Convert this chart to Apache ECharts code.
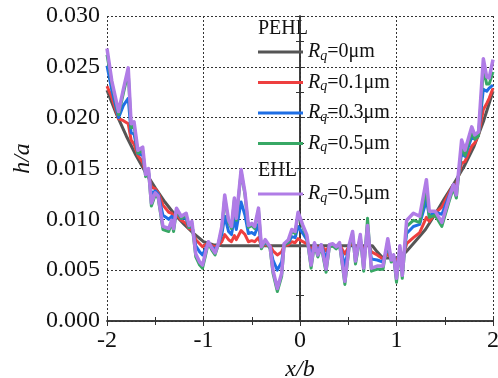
<!DOCTYPE html>
<html>
<head>
<meta charset="utf-8">
<script src="https://cdn.jsdelivr.net/npm/echarts@6/dist/echarts.min.js"></script>
<style>
  html, body { margin: 0; padding: 0; background: #fff; }
  #chart { width: 498px; height: 378px; }
</style>
</head>
<body>
<div id="chart"></div>
<script>
// Film thickness h/a along x/b for smooth and rough contacts.

// Smooth (Rq = 0) PEHL profile
const smoothX = [-2, -1.9, -1.8, -1.7, -1.6, -1.5, -1.4, -1.3, -1.2, -1.1, -1.0, -0.9, -0.8,
  0.75, 0.8, 0.85, 0.9, 0.95, 1.0, 1.05, 1.1, 1.2, 1.3, 1.4, 1.5, 1.6, 1.7, 1.8, 1.9, 2.0];
const pehlRq0 = [0.0227, 0.0203, 0.0182, 0.0163, 0.0146, 0.0131, 0.0117, 0.0105, 0.0095, 0.0086, 0.0078, 0.0075, 0.0074,
  0.0074, 0.0068, 0.0063, 0.0062, 0.0062, 0.0062, 0.0064, 0.0068, 0.0079, 0.0090, 0.0105, 0.0121, 0.0136, 0.0152, 0.0171, 0.0196, 0.0226];

// Rough-surface profiles share these x positions
const roughX = [
  -2.00, -1.95, -1.88, -1.83, -1.78, -1.75, -1.72, -1.68, -1.63, -1.60,
  -1.57, -1.54, -1.50, -1.47, -1.42, -1.36, -1.33, -1.31, -1.28, -1.23,
  -1.18, -1.15, -1.12, -1.08, -1.04, -1.01, -0.98, -0.95, -0.915, -0.88,
  -0.85, -0.81, -0.78, -0.74, -0.71, -0.68, -0.66, -0.61, -0.57, -0.535,
  -0.50, -0.47, -0.43, -0.40, -0.36, -0.31, -0.28, -0.235, -0.19, -0.165,
  -0.12, -0.085, -0.05, -0.02, 0.03, 0.07, 0.115, 0.15, 0.185, 0.22,
  0.27, 0.305, 0.34, 0.375, 0.41, 0.465, 0.51, 0.545, 0.575, 0.625,
  0.66, 0.70, 0.74, 0.80, 0.86, 0.91, 0.945, 0.97, 1.00, 1.035,
  1.06, 1.105, 1.175, 1.24, 1.31, 1.34, 1.40, 1.47, 1.54, 1.59,
  1.62, 1.675, 1.71, 1.78, 1.81, 1.85, 1.90, 1.935, 1.96, 2.00
];

const pehlRq01 = [
  0.0231, 0.0220, 0.0199, 0.0197, 0.0194, 0.0178, 0.0174, 0.0163, 0.0156, 0.0146,
  0.0143, 0.0132, 0.0130, 0.0126, 0.0114, 0.0107, 0.0106, 0.0103, 0.0105, 0.0099,
  0.0096, 0.0091, 0.0090, 0.0080, 0.0076, 0.0073, 0.0075, 0.0076, 0.0074, 0.0073,
  0.0074, 0.0078, 0.0085, 0.0080, 0.0078, 0.0084, 0.0080, 0.0089, 0.0085, 0.0078,
  0.0079, 0.0078, 0.0082, 0.0074, 0.0075, 0.0074, 0.0069, 0.0065, 0.0068, 0.0074,
  0.0075, 0.0078, 0.0077, 0.0081, 0.0078, 0.0076, 0.0070, 0.0075, 0.0072, 0.0074,
  0.0069, 0.0074, 0.0074, 0.0074, 0.0075, 0.0066, 0.0074, 0.0077, 0.0071, 0.0076,
  0.0069, 0.0078, 0.0068, 0.0065, 0.0061, 0.0066, 0.0062, 0.0063, 0.0058, 0.0065,
  0.0061, 0.0076, 0.0082, 0.0087, 0.0102, 0.0098, 0.0106, 0.0112, 0.0125, 0.0134,
  0.0134, 0.0155, 0.0157, 0.0172, 0.0175, 0.0183, 0.0208, 0.0214, 0.0219, 0.0229
];

const pehlRq03 = [
  0.0251, 0.0227, 0.0200, 0.0212, 0.0219, 0.0185, 0.0184, 0.0165, 0.0163, 0.0145,
  0.0146, 0.0125, 0.0128, 0.0125, 0.0104, 0.0100, 0.0103, 0.0097, 0.0108, 0.0101,
  0.0101, 0.0092, 0.0094, 0.0074, 0.0068, 0.0065, 0.0071, 0.0077, 0.0073, 0.0070,
  0.0075, 0.0085, 0.0103, 0.0088, 0.0085, 0.0101, 0.0090, 0.0117, 0.0104, 0.0086,
  0.0087, 0.0085, 0.0095, 0.0073, 0.0077, 0.0073, 0.0060, 0.0050, 0.0058, 0.0075,
  0.0077, 0.0083, 0.0082, 0.0093, 0.0086, 0.0080, 0.0063, 0.0076, 0.0069, 0.0075,
  0.0061, 0.0075, 0.0075, 0.0073, 0.0076, 0.0054, 0.0075, 0.0082, 0.0065, 0.0080,
  0.0061, 0.0086, 0.0061, 0.0060, 0.0058, 0.0073, 0.0061, 0.0064, 0.0050, 0.0069,
  0.0053, 0.0086, 0.0093, 0.0095, 0.0119, 0.0103, 0.0107, 0.0105, 0.0122, 0.0134,
  0.0129, 0.0165, 0.0162, 0.0181, 0.0179, 0.0184, 0.0228, 0.0226, 0.0229, 0.0232
];

const pehlRq05 = [
  0.0262, 0.0234, 0.0203, 0.0224, 0.0245, 0.0190, 0.0192, 0.0165, 0.0168, 0.0142,
  0.0148, 0.0113, 0.0124, 0.0121, 0.0090, 0.0088, 0.0097, 0.0088, 0.0109, 0.0101,
  0.0104, 0.0092, 0.0096, 0.0063, 0.0055, 0.0052, 0.0064, 0.0077, 0.0070, 0.0065,
  0.0074, 0.0091, 0.0121, 0.0097, 0.0091, 0.0119, 0.0099, 0.0147, 0.0124, 0.0092,
  0.0094, 0.0091, 0.0109, 0.0071, 0.0079, 0.0071, 0.0047, 0.0029, 0.0044, 0.0074,
  0.0078, 0.0088, 0.0086, 0.0105, 0.0092, 0.0083, 0.0052, 0.0075, 0.0063, 0.0073,
  0.0048, 0.0073, 0.0074, 0.0071, 0.0075, 0.0036, 0.0073, 0.0086, 0.0056, 0.0083,
  0.0049, 0.0101, 0.0049, 0.0051, 0.0051, 0.0079, 0.0058, 0.0063, 0.0038, 0.0072,
  0.0042, 0.0093, 0.0099, 0.0097, 0.0130, 0.0102, 0.0104, 0.0093, 0.0116, 0.0131,
  0.0121, 0.0172, 0.0163, 0.0186, 0.0179, 0.0182, 0.0248, 0.0233, 0.0233, 0.0245
];

const ehlRq05 = [
  0.0268, 0.0236, 0.0206, 0.0228, 0.0249, 0.0194, 0.0196, 0.0168, 0.0171, 0.0144,
  0.0150, 0.0116, 0.0126, 0.0123, 0.0093, 0.0091, 0.0099, 0.0091, 0.0111, 0.0103,
  0.0106, 0.0094, 0.0098, 0.0066, 0.0058, 0.0055, 0.0067, 0.0078, 0.0072, 0.0067,
  0.0075, 0.0093, 0.0124, 0.0099, 0.0093, 0.0121, 0.0101, 0.0149, 0.0126, 0.0094,
  0.0096, 0.0093, 0.0111, 0.0073, 0.0080, 0.0073, 0.0050, 0.0032, 0.0047, 0.0076,
  0.0080, 0.0090, 0.0088, 0.0107, 0.0094, 0.0085, 0.0055, 0.0077, 0.0065, 0.0075,
  0.0051, 0.0075, 0.0076, 0.0073, 0.0077, 0.0039, 0.0075, 0.0088, 0.0059, 0.0085,
  0.0052, 0.0094, 0.0052, 0.0054, 0.0054, 0.0081, 0.0060, 0.0065, 0.0042, 0.0074,
  0.0045, 0.0099, 0.0106, 0.0103, 0.0139, 0.0108, 0.0108, 0.0097, 0.0119, 0.0134,
  0.0124, 0.0178, 0.0168, 0.0191, 0.0183, 0.0186, 0.0258, 0.0240, 0.0239, 0.0257
];

const xTicks = { min: -2, max: 2, step: 1 };
const yTicks = { min: 0, max: 0.03, step: 0.005 };

// Legend entries: series name -> roughness value shown after "Rq="
const rqLabel = {
  'PEHL Rq=0': '0',
  'PEHL Rq=0.1': '0.1',
  'PEHL Rq=0.3': '0.3',
  'PEHL Rq=0.5': '0.5',
  'EHL Rq=0.5': '0.5'
};

const SERIF = 'Liberation Serif';
const AXIS_COLOR = '#333';
const TEXT_COLOR = '#111';

const pair = (xs, ys) => xs.map((x, i) => [x, ys[i]]);

const legendRich = {
  r: { fontFamily: SERIF, fontStyle: 'italic', fontSize: 20, lineHeight: 22, color: TEXT_COLOR },
  q: { fontFamily: SERIF, fontStyle: 'italic', fontSize: 14, lineHeight: 10, verticalAlign: 'bottom', color: TEXT_COLOR },
  t: { fontFamily: SERIF, fontSize: 20, lineHeight: 22, color: TEXT_COLOR }
};
const legendFormatter = name => `{r|R}{q|q}{t|=${rqLabel[name]}μm}`;

const baseLegend = {
  orient: 'vertical',
  left: 258,
  padding: 0,
  icon: 'rect',
  itemWidth: 45,
  itemHeight: 3,
  itemGap: 9.5,
  formatter: legendFormatter,
  textStyle: { fontFamily: SERIF, rich: legendRich },
  selectedMode: false
};

const lineSeries = (name, data, color, width, z) => ({
  name, type: 'line', data, symbol: 'none', z,
  lineStyle: { color, width, join: 'round' },
  itemStyle: { color },
  emphasis: { disabled: true }
});

const chart = echarts.init(document.getElementById('chart'), null, { renderer: 'canvas' });

const axisLine = { show: true, lineStyle: { color: AXIS_COLOR, width: 1.5 } };
const minorTick = { show: true, splitNumber: 2, length: 4, lineStyle: { color: AXIS_COLOR, width: 1 } };
const majorTick = { show: true, inside: true, length: 5, lineStyle: { color: AXIS_COLOR, width: 1 } };
const gridDots = { show: true, lineStyle: { color: '#333', width: 1, type: [2, 2] } };
const tickFont = { fontFamily: SERIF, fontSize: 24, color: TEXT_COLOR };
const nameFont = { fontFamily: SERIF, fontStyle: 'italic', fontSize: 24, color: TEXT_COLOR };

chart.setOption({
  animation: false,
  backgroundColor: '#fff',
  grid: { left: 107, right: 5, top: 16, bottom: 57, containLabel: false, outerBoundsMode: 'none' },
  xAxis: [
    {
      type: 'value', position: 'bottom', min: xTicks.min, max: xTicks.max, interval: xTicks.step,
      axisLine, axisTick: majorTick, minorTick,
      splitLine: gridDots,
      axisLabel: Object.assign({ margin: 8 }, tickFont),
      name: 'x/b', nameLocation: 'middle', nameGap: 29,
      nameTextStyle: nameFont
    },
    {
      type: 'value', position: 'top', min: xTicks.min, max: xTicks.max, interval: xTicks.step,
      axisLine, axisTick: majorTick, minorTick,
      splitLine: { show: false }, axisLabel: { show: false }
    }
  ],
  yAxis: [
    {
      type: 'value', position: 'left', min: yTicks.min, max: yTicks.max, interval: yTicks.step,
      axisLine, axisTick: majorTick, minorTick,
      splitLine: gridDots,
      axisLabel: Object.assign({ margin: 7, formatter: v => v.toFixed(3) }, tickFont),
      name: 'h/a', nameLocation: 'middle', nameGap: 70,
      nameTextStyle: Object.assign({ padding: [0, 0, 0, 20] }, nameFont)
    },
    {
      type: 'value', position: 'right', min: yTicks.min, max: yTicks.max, interval: yTicks.step,
      axisLine, axisTick: majorTick, minorTick,
      splitLine: { show: false }, axisLabel: { show: false }
    }
  ],
  legend: [
    Object.assign({}, baseLegend, { top: 42, data: ['PEHL Rq=0', 'PEHL Rq=0.1', 'PEHL Rq=0.3', 'PEHL Rq=0.5'] }),
    Object.assign({}, baseLegend, { top: 184, data: ['EHL Rq=0.5'] })
  ],
  graphic: [
    { type: 'text', left: 258, top: 19, style: { text: 'PEHL', fontFamily: SERIF, fontSize: 20, fill: TEXT_COLOR } },
    { type: 'text', left: 258, top: 161, style: { text: 'EHL', fontFamily: SERIF, fontSize: 20, fill: TEXT_COLOR } }
  ],
  series: [
    lineSeries('PEHL Rq=0', pair(smoothX, pehlRq0), '#555555', 3, 2),
    lineSeries('PEHL Rq=0.1', pair(roughX, pehlRq01), '#ee3f3f', 3, 3),
    lineSeries('PEHL Rq=0.3', pair(roughX, pehlRq03), '#1f6fe5', 3, 4),
    lineSeries('PEHL Rq=0.5', pair(roughX, pehlRq05), '#38a865', 3, 5),
    lineSeries('EHL Rq=0.5', pair(roughX, ehlRq05), '#b07ce6', 3.5, 6)
  ]
});
</script>
</body>
</html>
